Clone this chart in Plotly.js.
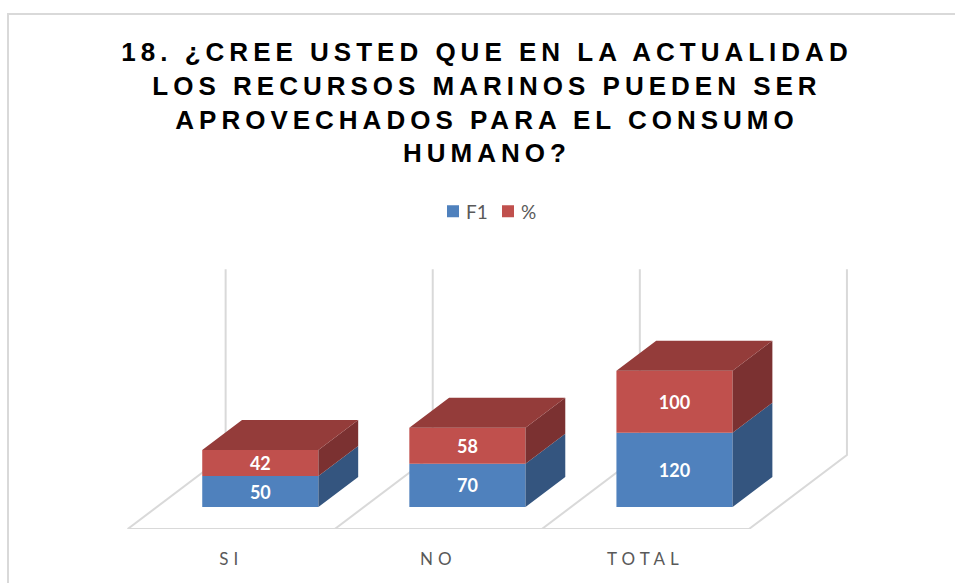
<!DOCTYPE html>
<html>
<head>
<meta charset="utf-8">
<script src="https://cdn.plot.ly/plotly-3.0.1.min.js"></script>
<style>
  html, body { margin: 0; padding: 0; background: #ffffff; }
  #frame { position: absolute; left: 7px; top: 13px; width: 1200px; height: 800px;
           border-left: 2px solid #d9d9d9; border-top: 2px solid #d9d9d9; }
  #chart { position: absolute; left: 0; top: 0; width: 955px; height: 583px; }
</style>
</head>
<body>
<div id="frame"></div>
<div id="chart"></div>
<script>
// ---- data ----
const categories = ["SI", "NO", "TOTAL"];
const f1Values = [50, 70, 120];
const pctValues = [42, 58, 100];
const seriesNames = ["F1", "%"];
const titleText = "18. ¿CREE USTED QUE EN LA ACTUALIDAD<br>LOS RECURSOS MARINOS PUEDEN SER<br>APROVECHADOS PARA EL CONSUMO<br>HUMANO?";
const wallMax = 300;

// ---- 3D projection settings ----
const PX_X = 207.2;          // px per category
const PX_Y = 0.62;           // px per value unit
const DX = 98 / PX_X;        // depth shift in category units
const DY = 74 / PX_Y;        // depth shift in value units
const Z1 = 0.297, Z2 = 0.703; // bar front / back depth
const BW = 0.561;            // bar width (category units)

const colBlue = "#4F81BD", colBlueSide = "#34557F";
const colRed = "#C0504D", colRedSide = "#7B3131", colRedTop = "#943C3A";
const gridCol = "#D9D9D9";
const labelFont = { family: "Lato, 'Open Sans', sans-serif", size: 18, color: "#ffffff", weight: "bold" };

function P(x, v, z) { return [x + z * DX, v + z * DY]; }

// layout geometry
const L = 106.6, R = 55, B = 583 - 529.3, T = 250;
const W = 955 - L - R, H = 583 - T - B;
const xmin = -(127.3 - L) / PX_X, xmax = xmin + W / PX_X;
const ymin = 0, ymax = H / PX_Y;

const traces = [];
const n = categories.length;

// floor + walls (category gridlines) on the base subplot
const gx = [], gy = [];
[[0, 0, 0], [n, 0, 0]].forEach(p => { const q = P(p[0], p[1], p[2]); gx.push(q[0]); gy.push(q[1]); });
gx.push(null); gy.push(null);
for (let i = 0; i <= n; i++) {
  const a = P(i, 0, 0), b = P(i, 0, 1), c = P(i, wallMax, 1);
  gx.push(a[0], b[0], c[0], null); gy.push(a[1], b[1], c[1], null);
}
traces.push({ x: gx, y: gy, mode: "lines", line: { color: gridCol, width: 2 },
  hoverinfo: "skip", showlegend: false, type: "scatter", xaxis: "x", yaxis: "y" });

function sidePoly(lo, hi) {
  const xs = [], ys = [];
  for (let i = 0; i < n; i++) {
    const xr = i + 0.5 + BW / 2;
    const pts = [P(xr, lo[i], Z1), P(xr, lo[i], Z2), P(xr, hi[i], Z2), P(xr, hi[i], Z1), P(xr, lo[i], Z1)];
    pts.forEach(p => { xs.push(p[0]); ys.push(p[1]); });
    xs.push(null); ys.push(null);
  }
  return { xs, ys };
}
function topPoly(v) {
  const xs = [], ys = [];
  for (let i = 0; i < n; i++) {
    const xl = i + 0.5 - BW / 2, xr = i + 0.5 + BW / 2;
    const pts = [P(xl, v[i], Z1), P(xr, v[i], Z1), P(xr, v[i], Z2), P(xl, v[i], Z2), P(xl, v[i], Z1)];
    pts.forEach(p => { xs.push(p[0]); ys.push(p[1]); });
    xs.push(null); ys.push(null);
  }
  return { xs, ys };
}

const zeros = categories.map(() => 0);
const totals = f1Values.map((v, i) => v + pctValues[i]);
const frontX = categories.map((c, i) => i + 0.5 + Z1 * DX);

// front faces as bars (overlay subplot, above gridlines)
traces.push({ type: "bar", name: seriesNames[0], x: frontX, y: f1Values,
  base: categories.map(() => Z1 * DY), width: BW, xaxis: "x2", yaxis: "y2",
  marker: { color: colBlue, line: { width: 0 } },
  text: f1Values.map(String), textposition: "inside", insidetextanchor: "middle",
  textangle: 0, constraintext: "none", textfont: labelFont,
  hoverinfo: "skip", cliponaxis: false });
traces.push({ type: "bar", name: seriesNames[1], x: frontX, y: pctValues,
  base: f1Values.map(v => Z1 * DY + v), width: BW, xaxis: "x2", yaxis: "y2",
  marker: { color: colRed, line: { width: 0 } },
  text: pctValues.map(String), textposition: "inside", insidetextanchor: "middle",
  textangle: 0, constraintext: "none", textfont: labelFont,
  hoverinfo: "skip", cliponaxis: false });

// blue side
let s = sidePoly(zeros, f1Values);
traces.push({ x: s.xs, y: s.ys, mode: "lines", fill: "toself", fillcolor: colBlueSide, xaxis: "x2", yaxis: "y2",
  line: { width: 0, color: colBlueSide }, hoverinfo: "skip", showlegend: false, type: "scatter" });
// red side
s = sidePoly(f1Values, totals);
traces.push({ x: s.xs, y: s.ys, mode: "lines", fill: "toself", fillcolor: colRedSide, xaxis: "x2", yaxis: "y2",
  line: { width: 0, color: colRedSide }, hoverinfo: "skip", showlegend: false, type: "scatter" });
// red top
s = topPoly(totals);
traces.push({ x: s.xs, y: s.ys, mode: "lines", fill: "toself", fillcolor: colRedTop, xaxis: "x2", yaxis: "y2",
  line: { width: 0, color: colRedTop }, hoverinfo: "skip", showlegend: false, type: "scatter" });

const hiddenAxis = { showgrid: false, zeroline: false, showline: false, showticklabels: false, ticks: "", fixedrange: true };

const layout = {
  width: 955, height: 583,
  paper_bgcolor: "rgba(0,0,0,0)", plot_bgcolor: "rgba(0,0,0,0)",
  margin: { l: L, r: R, t: T, b: B, pad: 0 },
  barmode: "overlay",
  title: {
    text: titleText, xref: "container", x: 487 / 955, xanchor: "center",
    yref: "container", y: 1 - 61 / 583, yanchor: "top",
    font: { family: "'Liberation Sans', Arial, sans-serif", size: 26, color: "#000000", weight: "bold" }
  },
  showlegend: true,
  legend: {
    orientation: "h", xref: "container", yref: "container",
    x: 433 / 955, xanchor: "left", y: 1 - 211.5 / 583, yanchor: "middle",
    font: { family: "Lato, 'Open Sans', sans-serif", size: 19, color: "#595959" },
    entrywidth: 10, entrywidthmode: "pixels", itemwidth: 30, traceorder: "normal"
  },
  xaxis: {
    range: [xmin, xmax], showgrid: false, zeroline: false, showline: false,
    tickmode: "array", tickvals: categories.map((c, i) => i + 0.5), ticktext: categories,
    ticks: "", ticklabelstandoff: 18,
    tickfont: { family: "Lato, 'Open Sans', sans-serif", size: 17, color: "#595959" },
    fixedrange: true
  },
  yaxis: Object.assign({ range: [ymin, ymax] }, hiddenAxis),
  xaxis2: Object.assign({ range: [xmin, xmax], overlaying: "x" }, hiddenAxis),
  yaxis2: Object.assign({ range: [ymin, ymax], overlaying: "y" }, hiddenAxis)
};

Plotly.newPlot("chart", traces, layout, { displayModeBar: false, staticPlot: true }).then(() => {
  document.querySelectorAll("#chart .gtitle").forEach(t => { t.style.letterSpacing = "5px"; });
  document.querySelectorAll("#chart .xtick text").forEach(t => { t.style.letterSpacing = "5px"; });
  document.querySelectorAll("#chart .legendtext").forEach(t => {
    const x = parseFloat(t.getAttribute("x") || "40");
    t.setAttribute("x", x - 7);
  });
});
</script>
</body>
</html>
